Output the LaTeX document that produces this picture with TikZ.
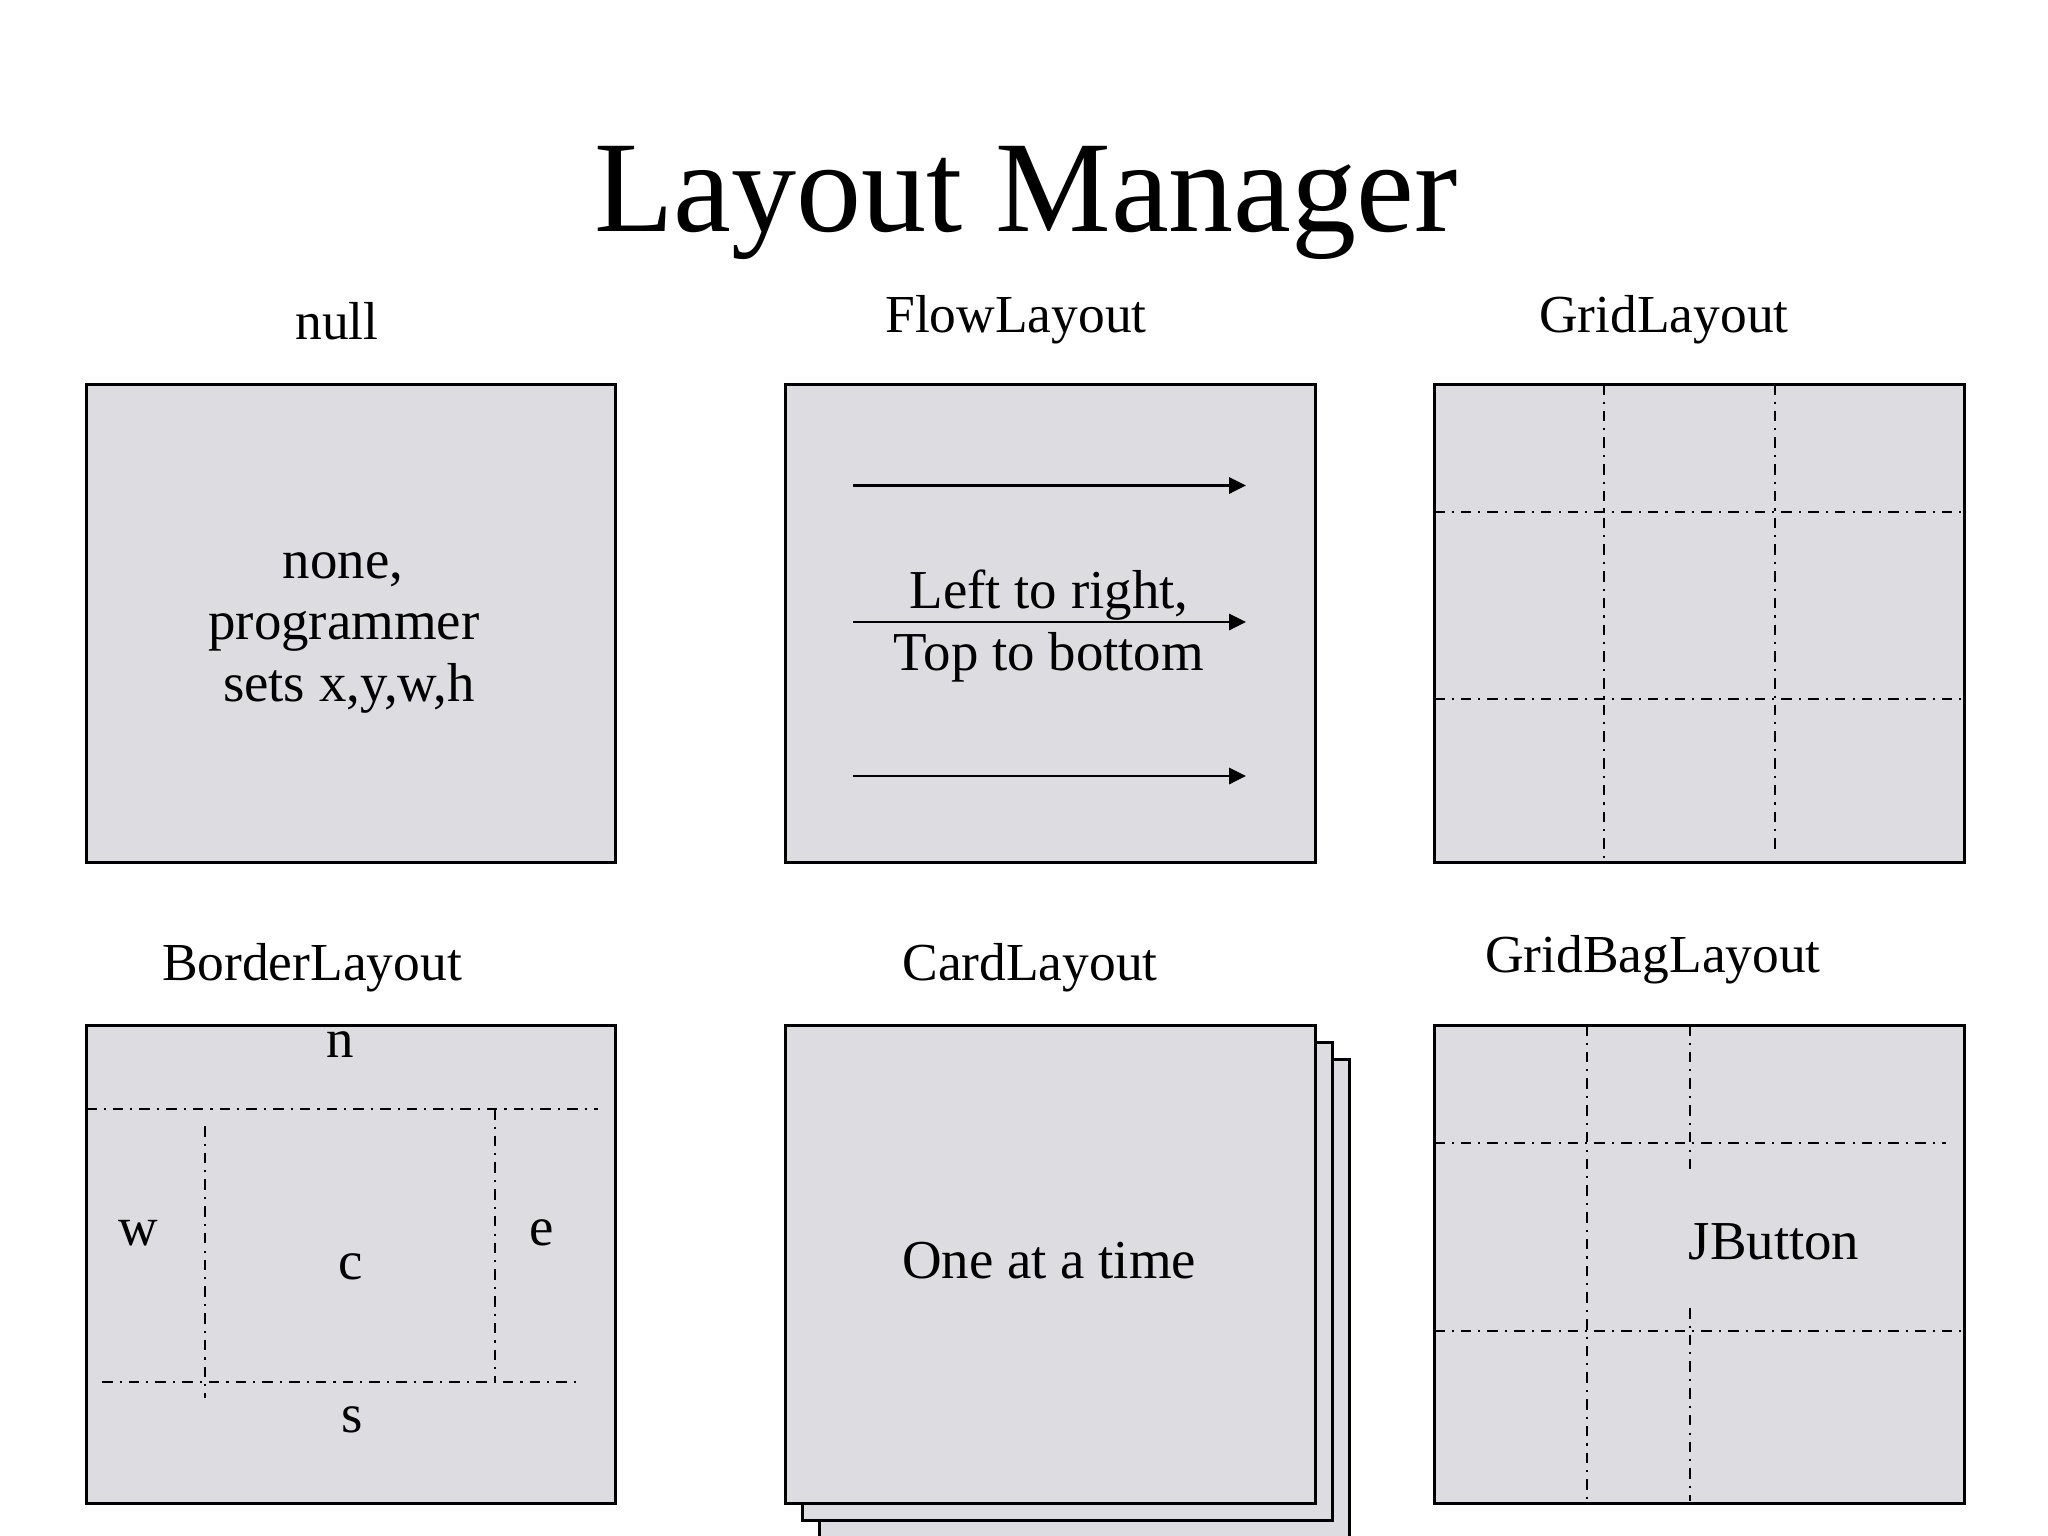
\documentclass[tikz,border=0pt]{standalone}
\usepackage{fontspec}
\setmainfont{Liberation Serif}
\usetikzlibrary{arrows.meta}
\definecolor{panelfill}{RGB}{221,220,224}
\tikzset{
  panel/.style={draw=black, line width=0.75pt, fill=panelfill, anchor=north west, inner sep=0pt},
  gridline/.style={line width=0.7pt, dash pattern=on 3pt off 2pt on 0.6pt off 2pt},
  flowarrow/.style={line width=0.7pt, -{Triangle[length=4.8pt,width=4.6pt]}},
  lbl/.style={anchor=base, inner sep=0pt, font=\fontsize{15.6}{18}\selectfont},
  hdr/.style={anchor=base, inner sep=0pt, font=\fontsize{15.2}{18}\selectfont},
  ttl/.style={anchor=base, inner sep=0pt, font=\fontsize{37}{40}\selectfont},
}
\begin{document}
\begin{tikzpicture}[x=0.01cm, y=-0.01cm]
\useasboundingbox[fill=white] (0,0) rectangle (2048,1536);

% title
\node[ttl] (title) at (1026,231) {Layout Manager};

% labels
\node[hdr] (lnull) at (337,339) {null};
\node[hdr] (lflow) at (1016,332) {FlowLayout};
\node[hdr] (lgrid) at (1664,332) {GridLayout};
\node[hdr] (lborder) at (312,980) {BorderLayout};
\node[hdr] (lcard) at (1030,980) {CardLayout};
\node[hdr] (lgbag) at (1653,972) {GridBagLayout};

% ---- null panel
\node[panel, minimum width=5.29cm, minimum height=4.78cm] (pnull) at (85,383) {};
\node[lbl] (n1) at (343,578) {none,};
\node[lbl] (n2) at (344,639) {programmer};
\node[lbl] (n3) at (349,701) {sets x,y,w,h};

% ---- flow panel
\node[panel, minimum width=5.30cm, minimum height=4.78cm] (pflow) at (784,383) {};
\coordinate (fa1s) at (853,485.5); \coordinate (fa1e) at (1246,485.5);
\coordinate (fa2s) at (853,622);   \coordinate (fa2e) at (1246,622);
\coordinate (fa3s) at (853,776);   \coordinate (fa3e) at (1246,776);
\draw[flowarrow] (fa1s) -- (fa1e);
\draw[flowarrow] (fa2s) -- (fa2e);
\draw[flowarrow] (fa3s) -- (fa3e);
\node[lbl] (f1) at (1049,608) {Left to right,};
\node[lbl] (f2) at (1049,670) {Top to bottom};

% ---- grid panel
\node[panel, minimum width=5.30cm, minimum height=4.78cm] (pgrid) at (1433,383) {};
\coordinate (gv1a) at (1604,384); \coordinate (gv1b) at (1604,860);
\coordinate (gv2a) at (1775,384); \coordinate (gv2b) at (1775,850);
\coordinate (gh1a) at (1434,512); \coordinate (gh1b) at (1961,512);
\coordinate (gh2a) at (1434,699); \coordinate (gh2b) at (1961,699);
\draw[gridline] (gv1a) -- (gv1b);
\draw[gridline] (gv2a) -- (gv2b);
\draw[gridline] (gh1a) -- (gh1b);
\draw[gridline] (gh2a) -- (gh2b);

% ---- border panel
\node[panel, minimum width=5.29cm, minimum height=4.78cm] (pborder) at (85,1024) {};
\coordinate (bh1a) at (86,1109);  \coordinate (bh1b) at (598,1109);
\coordinate (bh2a) at (102,1382); \coordinate (bh2b) at (580,1382);
\coordinate (bv1a) at (205,1126); \coordinate (bv1b) at (205,1398);
\coordinate (bv2a) at (495,1109); \coordinate (bv2b) at (495,1382);
\draw[gridline] (bh1a) -- (bh1b);
\draw[gridline] (bh2a) -- (bh2b);
\draw[gridline] (bv1a) -- (bv1b);
\draw[gridline] (bv2a) -- (bv2b);
\node[lbl] (bn) at (340,1057) {n};
\node[lbl] (bw) at (138,1245) {w};
\node[lbl] (be) at (542,1245) {e};
\node[lbl] (bc) at (351,1279) {c};
\node[lbl] (bs) at (352,1432) {s};

% ---- card panel (stack)
\node[panel, minimum width=5.30cm, minimum height=4.78cm] (pcard3) at (818,1058) {};
\node[panel, minimum width=5.30cm, minimum height=4.78cm] (pcard2) at (801,1041) {};
\node[panel, minimum width=5.30cm, minimum height=4.78cm] (pcard) at (784,1024) {};
\node[lbl] (ctext) at (1049,1278) {One at a time};

% ---- gridbag panel
\node[panel, minimum width=5.30cm, minimum height=4.78cm] (pgbag) at (1433,1024) {};
\coordinate (qv1a) at (1587,1025); \coordinate (qv1b) at (1587,1501);
\coordinate (qv2a) at (1690,1025); \coordinate (qv2b) at (1690,1175);
\coordinate (qv3a) at (1690,1308); \coordinate (qv3b) at (1690,1501);
\coordinate (qh1a) at (1434,1143); \coordinate (qh1b) at (1946,1143);
\coordinate (qh2a) at (1434,1331); \coordinate (qh2b) at (1961,1331);
\draw[gridline] (qv1a) -- (qv1b);
\draw[gridline] (qv2a) -- (qv2b);
\draw[gridline] (qv3a) -- (qv3b);
\draw[gridline] (qh1a) -- (qh1b);
\draw[gridline] (qh2a) -- (qh2b);
\node[lbl] (jb) at (1774,1259) {JButton};
\end{tikzpicture}
\end{document}
